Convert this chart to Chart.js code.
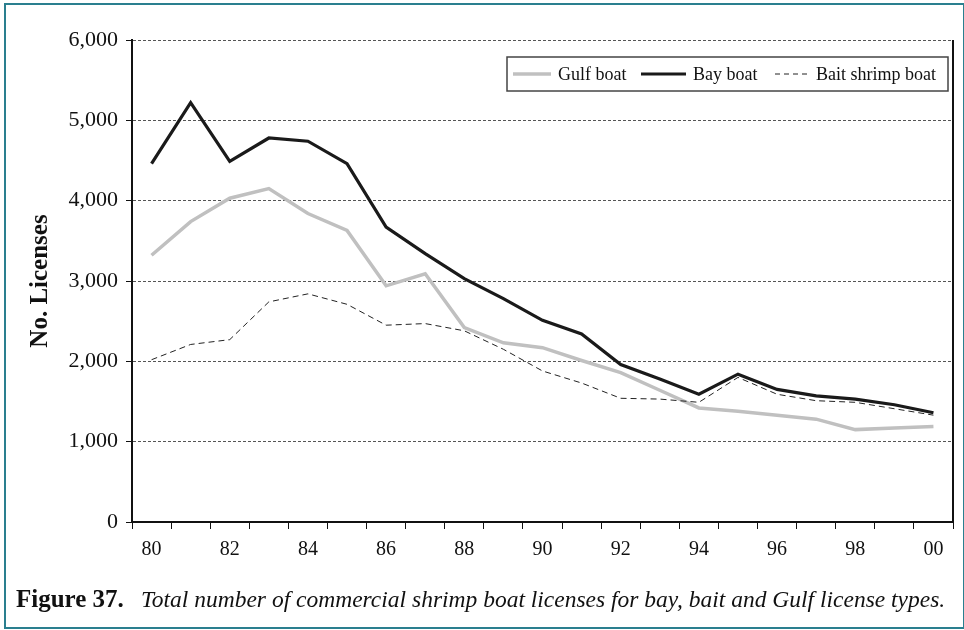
<!DOCTYPE html>
<html>
<head>
<meta charset="utf-8">
<script src="https://cdn.jsdelivr.net/npm/chart.js@4.4.1/dist/chart.umd.min.js"></script>
<style>
  html, body { margin: 0; padding: 0; background: #fff; }
  #wrap { position: relative; width: 964px; height: 630px; overflow: hidden; }
  #frame { position: absolute; left: 4px; top: 3px; width: 957px; height: 622px;
           border: 2px solid #2a7f8f; box-sizing: content-box; pointer-events: none; }
  #chart { position: absolute; left: 0; top: 0; }
  #caption { position: absolute; left: 16px; top: 585px; white-space: nowrap;
             font-family: 'Liberation Serif', serif; color: #111; }
  #caption b { font-size: 25px; }
  #caption i { font-size: 23.5px; margin-left: 17px; }
</style>
</head>
<body>
<div id="wrap">
  <canvas id="chart" width="964" height="630"></canvas>
  <div id="caption"><b>Figure 37.</b><i>Total number of commercial shrimp boat licenses for bay, bait and Gulf license types.</i></div>
  <div id="frame"></div>
</div>
<script>
// years 1980 - 2000, labelled with two digits
var years = ['80', '81', '82', '83', '84', '85', '86', '87', '88', '89', '90',
             '91', '92', '93', '94', '95', '96', '97', '98', '99', '00'];

var gulfBoat = [3320, 3740, 4030, 4150, 3840, 3630, 2940, 3090, 2420, 2230, 2170,
                2010, 1860, 1640, 1420, 1380, 1330, 1280, 1150, 1170, 1190];

var bayBoat = [4460, 5220, 4490, 4780, 4740, 4460, 3670, 3340, 3030, 2780, 2510,
               2340, 1960, 1780, 1590, 1840, 1650, 1570, 1530, 1460, 1360];

var baitBoat = [2020, 2210, 2270, 2740, 2840, 2710, 2450, 2470, 2380, 2150, 1880,
                1730, 1540, 1530, 1490, 1800, 1590, 1510, 1490, 1410, 1330];

var yTicks = [0, 1000, 2000, 3000, 4000, 5000, 6000];

var serif = "'Liberation Serif', serif";

// boxed legend inside the plot, top right
var boxLegend = {
  id: 'boxLegend',
  afterDraw: function(chart) {
    var ctx = chart.ctx;
    var area = chart.chartArea;
    var sets = chart.data.datasets;
    var right = area.right - 5, top = area.top + 17;
    var left = right - 441, h = 34;
    var midY = top + h / 2;

    ctx.save();
    ctx.fillStyle = '#fff';
    ctx.fillRect(left, top, right - left, h);
    ctx.strokeStyle = '#444';
    ctx.lineWidth = 1.5;
    ctx.strokeRect(left, top, right - left, h);

    var items = [
      {x: left + 6, len: 38},
      {x: left + 134, len: 45},
      {x: left + 268, len: 34}
    ];
    ctx.font = '18px ' + serif;
    ctx.textBaseline = 'middle';
    for (var i = 0; i < sets.length; i++) {
      var ds = sets[i], it = items[i];
      ctx.beginPath();
      ctx.strokeStyle = ds.borderColor;
      ctx.lineWidth = ds.borderWidth;
      ctx.setLineDash(ds.borderDash ? [5, 4] : []);
      ctx.moveTo(it.x, midY);
      ctx.lineTo(it.x + it.len, midY);
      ctx.stroke();
      ctx.setLineDash([]);
      ctx.fillStyle = '#111';
      ctx.fillText(ds.label, it.x + it.len + 7, midY + 1);
    }
    ctx.restore();
  }
};

// solid right-hand edge of the plot area
var rightEdge = {
  id: 'rightEdge',
  afterDraw: function(chart) {
    var ctx = chart.ctx, a = chart.chartArea;
    ctx.save();
    ctx.strokeStyle = '#111';
    ctx.lineWidth = 2;
    ctx.beginPath();
    ctx.moveTo(a.right, a.top);
    ctx.lineTo(a.right, a.bottom);
    ctx.stroke();
    ctx.restore();
  }
};

var ctx = document.getElementById('chart').getContext('2d');
var chart = new Chart(ctx, {
  type: 'line',
  data: {
    labels: years,
    datasets: [
      {
        label: 'Gulf boat',
        data: gulfBoat,
        borderColor: '#c0c0c0',
        borderWidth: 3.5,
        pointRadius: 0,
        tension: 0,
        order: 3
      },
      {
        label: 'Bay boat',
        data: bayBoat,
        borderColor: '#1a1a1a',
        borderWidth: 3.2,
        pointRadius: 0,
        tension: 0,
        order: 1
      },
      {
        label: 'Bait shrimp boat',
        data: baitBoat,
        borderColor: '#222',
        borderWidth: 1,
        borderDash: [6, 4],
        pointRadius: 0,
        tension: 0,
        order: 2
      }
    ]
  },
  options: {
    responsive: false,
    animation: false,
    devicePixelRatio: 1,
    layout: { padding: { left: 10, right: 11, top: 40, bottom: 60 } },
    plugins: {
      legend: { display: false },
      tooltip: { enabled: false }
    },
    scales: {
      x: {
        type: 'category',
        offset: true,
        afterFit: function(scale) { scale.height = 48; },
        grid: {
          offset: true,
          drawOnChartArea: false,
          drawTicks: true,
          tickLength: 7,
          tickColor: '#111',
          tickWidth: 1
        },
        border: { color: '#111', width: 2 },
        ticks: {
          autoSkip: false,
          maxRotation: 0,
          padding: 9,
          color: '#111',
          font: { family: serif, size: 20 },
          callback: function(v, i) { return i % 2 === 0 ? years[i] : ''; }
        }
      },
      y: {
        min: yTicks[0],
        max: yTicks[yTicks.length - 1],
        afterFit: function(scale) { scale.width = 122; },
        afterBuildTicks: function(scale) {
          scale.ticks = yTicks.map(function(v) { return {value: v}; });
        },
        grid: {
          color: '#555',
          lineWidth: 1,
          tickLength: 6,
          tickColor: '#111',
          tickBorderDash: []
        },
        border: { color: '#111', width: 2, dash: [3, 2] },
        ticks: {
          padding: 8,
          color: '#111',
          font: { family: serif, size: 22 },
          callback: function(v) { return v.toLocaleString('en-US'); }
        },
        title: {
          display: true,
          text: 'No. Licenses',
          color: '#111',
          font: { family: serif, size: 25, weight: 'bold' },
          padding: { top: 16, bottom: 0 }
        }
      }
    }
  },
  plugins: [boxLegend, rightEdge]
});
</script>
</body>
</html>
